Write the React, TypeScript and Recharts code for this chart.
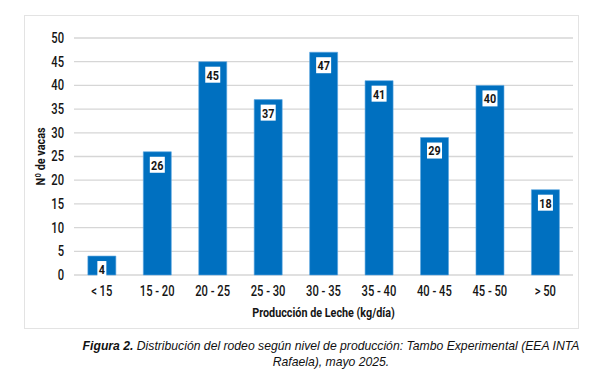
import * as React from "react";
import { BarChart, Bar, XAxis, YAxis, CartesianGrid, LabelList, Label } from "recharts";

const categories = ["< 15", "15 - 20", "20 - 25", "25 - 30", "30 - 35", "35 - 40", "40 - 45", "45 - 50", "> 50"];
const cows = [4, 26, 45, 37, 47, 41, 29, 40, 18];
const yTicks = [0, 5, 10, 15, 20, 25, 30, 35, 40, 45, 50];

const data = categories.map((name, i) => ({ name, value: cows[i] }));

const FONT = "Roboto, 'DejaVu Sans', sans-serif";
const BAR = "#0070C0";
const SQ = 0.8; // horizontal squeeze, the original uses a condensed face

// condensed-looking text: scale x only around the anchor point
const Narrow = ({ x, y, anchor = "middle", size = 14, weight = 500, rotate = 0, children }: any) => (
  <text
    transform={`translate(${x},${y}) rotate(${rotate}) scale(${SQ},1)`}
    textAnchor={anchor}
    dominantBaseline="central"
    fontFamily={FONT}
    fontSize={size}
    fontWeight={weight}
    fill="#151515"
  >
    {children}
  </text>
);

const XTick = (props: any) => {
  const { x, y, payload } = props;
  return <Narrow x={x} y={Number(y) + 8}>{payload.value}</Narrow>;
};

const YTick = (props: any) => {
  const { x, y, payload } = props;
  return <Narrow x={Number(x)} y={y} anchor="end">{payload.value}</Narrow>;
};

const ValueTag = (props: any) => {
  const { x, y, width, value } = props;
  const txt = String(value);
  const w = txt.length * 6 + 3;
  const cx = Number(x) + Number(width) / 2;
  const top = Number(y) + 5;
  return (
    <g>
      <rect x={cx - w / 2} y={top} width={w} height={16} fill="#fff" />
      <Narrow x={cx} y={top + 8.5} size={13.5} weight={700}>{txt}</Narrow>
    </g>
  );
};

const XTitle = (props: any) => {
  const vb = props.viewBox || {};
  return (
    <Narrow x={vb.x + vb.width / 2} y={vb.y + 38} size={13.5} weight={700}>
      Producción de Leche (kg/día)
    </Narrow>
  );
};

const YTitle = (props: any) => {
  const vb = props.viewBox || {};
  return (
    <Narrow x={vb.x + 16} y={vb.y + vb.height / 2} size={13.5} weight={700} rotate={-90}>
      Nº de vacas
    </Narrow>
  );
};

export default function App() {
  return (
    <div style={{ position: "absolute", left: 0, top: 0, width: 595, height: 380, background: "#fff" }}>
      <div
        style={{
          position: "absolute",
          left: 24,
          top: 15,
          width: 555,
          height: 314,
          border: "1px solid #e3e3e3",
          boxSizing: "border-box",
        }}
      >
        <BarChart
          width={553}
          height={312}
          data={data}
          margin={{ top: 22, right: 5, left: 0, bottom: 0 }}
          barCategoryGap="25%"
        >
          <CartesianGrid vertical={false} stroke="#d6d6d6" strokeWidth={1.3} />
          <XAxis
            dataKey="name"
            height={53}
            axisLine={false}
            tickLine={false}
            interval={0}
            tick={<XTick />}
          >
            <Label content={<XTitle />} />
          </XAxis>
          <YAxis
            width={49}
            domain={[0, 50]}
            ticks={yTicks}
            axisLine={false}
            tickLine={false}
            tickMargin={4}
            tick={<YTick />}
          >
            <Label content={<YTitle />} />
          </YAxis>
          <Bar dataKey="value" fill={BAR} stroke="#5aa6e0" strokeWidth={0.6} isAnimationActive={false}>
            <LabelList dataKey="value" content={ValueTag} />
          </Bar>
        </BarChart>
      </div>
      <div
        style={{
          position: "absolute",
          left: 81,
          top: 338,
          width: 500,
          textAlign: "center",
          fontFamily: "'Liberation Sans', Arial, sans-serif",
          fontStyle: "italic",
          fontSize: 12.2,
          lineHeight: "16px",
          color: "#111",
        }}
      >
        <b>Figura 2.</b> Distribución del rodeo según nivel de producción: Tambo Experimental (EEA INTA Rafaela), mayo 2025.
      </div>
    </div>
  );
}
